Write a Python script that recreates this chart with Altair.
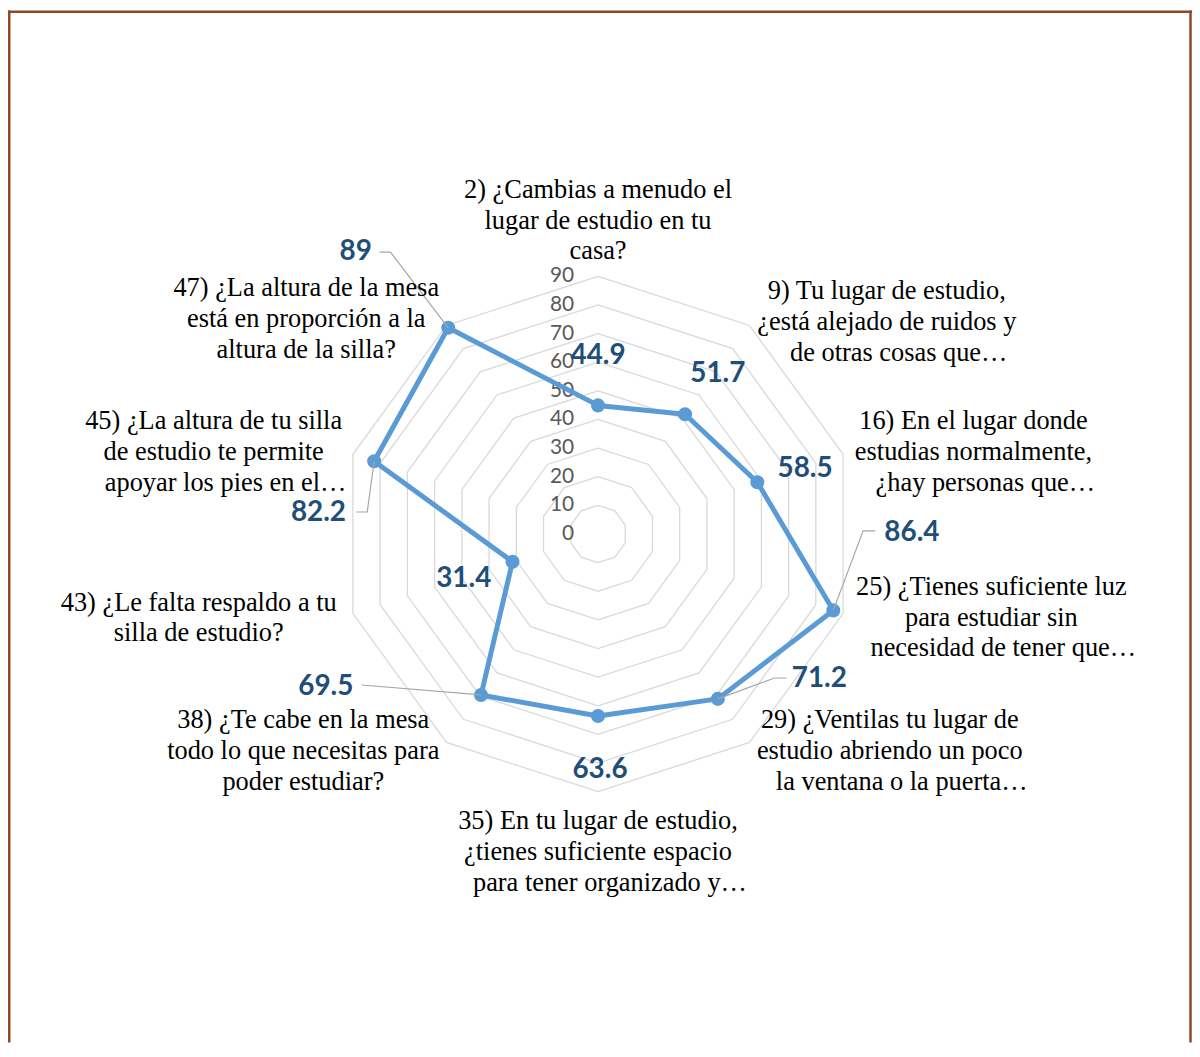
import altair as alt
import pandas as pd

# ---------------- data ----------------
categories = [
    ["2) ¿Cambias a menudo el", "lugar de estudio en tu", "casa?"],
    ["9) Tu lugar de estudio,", "¿está alejado de ruidos y", "de otras cosas que…"],
    ["16) En el lugar donde", "estudias normalmente,", "¿hay personas que…"],
    ["25) ¿Tienes suficiente luz", "para estudiar sin", "necesidad de tener que…"],
    ["29) ¿Ventilas tu lugar de", "estudio abriendo un poco", "la ventana o la puerta…"],
    ["35) En tu lugar de estudio,", "¿tienes suficiente espacio", "para tener organizado y…"],
    ["38) ¿Te cabe en la mesa", "todo lo que necesitas para", "poder estudiar?"],
    ["43) ¿Le falta respaldo a tu", "silla de estudio?"],
    ["45) ¿La altura de tu silla", "de estudio te permite", "apoyar los pies en el…"],
    ["47) ¿La altura de la mesa", "está en proporción a la", "altura de la silla?"],
]
values = [44.9, 51.7, 58.5, 86.4, 71.2, 63.6, 69.5, 31.4, 82.2, 89]
grid_levels = [10, 20, 30, 40, 50, 60, 70, 80, 90]
tick_values = [0, 10, 20, 30, 40, 50, 60, 70, 80, 90]
tick_labels = ["0", "10", "20", "30", "40", "50", "60", "70", "80", "90"]
max_value = 90

# ---------------- layout (pixels) ----------------
W, H = 1190, 1037
CX, CY = 593, 526          # centre of the radar inside the chart
R_PX = 259                 # radius of the 90 ring
K = R_PX / max_value       # pixels per unit
N = len(values)
LINE_H = 31
ELLIPSIS_SHIFT = 12

value_label_offsets = [(0, -50), (33, -40), (48, -13), (79, -78), (102, -20),
                       (2, 54), (-156, -8), (-49, 17), (-56, 52), (-93, -76)]
leader_paths = {
    3: [(0, 0), (30, -80), (42, -80)],
    4: [(0, 0), (57, -21), (69, -21)],
    6: [(0, 0), (-120, -10)],
    8: [(0, 0), (-7, 51), (-18, 51)],
    9: [(0, 0), (-58, -76), (-69, -76)],
}
cat_label_offsets = [(0, -56), (138, -3.5), (131, -2), (149, 4), (141, 8.5),
                     (0, 61), (-144, 8.5), (-155, 4.5), (-140, -2), (-141, -6.5)]

# ---------------- tables ----------------
grid_df = pd.DataFrame([{"level": lv, "i": j} for lv in grid_levels for j in range(N + 1)])
tick_df = pd.DataFrame({"level": tick_values, "label": tick_labels})
series_df = pd.DataFrame([{"i": j, "v": values[j % N]} for j in range(N + 1)])
points_df = pd.DataFrame({"i": list(range(N)), "v": values,
                          "label": [f"{v:g}" for v in values],
                          "ox": [o[0] for o in value_label_offsets],
                          "oy": [o[1] for o in value_label_offsets]})
leader_df = pd.DataFrame([{"i": i, "v": values[i], "step": s, "ox": p[0], "oy": p[1]}
                          for i, path in leader_paths.items() for s, p in enumerate(path)])
cat_rows = []
for i, lines in enumerate(categories):
    n = len(lines)
    for li, t in enumerate(lines):
        cat_rows.append({"i": i, "v": max_value, "text": t,
                         "ox": cat_label_offsets[i][0] + (ELLIPSIS_SHIFT if t.endswith("…") else 0),
                         "oy": cat_label_offsets[i][1] + (li - (n - 1) / 2) * LINE_H})
cat_df = pd.DataFrame(cat_rows)

xs = alt.Scale(domain=[-CX / K, (W - CX) / K], nice=False, zero=False)
ys = alt.Scale(domain=[-(H - CY) / K, CY / K], nice=False, zero=False)
X = alt.X("x:Q", scale=xs, axis=None)
Y = alt.Y("y:Q", scale=ys, axis=None)

theta = f"2*PI*datum.i/{N}"


def polar(chart, rfield="v"):
    return chart.transform_calculate(
        x=f"datum.{rfield}*sin({theta})",
        y=f"datum.{rfield}*cos({theta})",
    )


def polar_off(chart):
    return chart.transform_calculate(
        x=f"datum.v*sin({theta}) + datum.ox/{K}",
        y=f"datum.v*cos({theta}) - datum.oy/{K}",
    )


grid = polar(alt.Chart(grid_df).mark_line(color="#D9D9D9", strokeWidth=1.3), "level").encode(
    x=X, y=Y, detail="level:N", order="i:Q")

ticks = alt.Chart(tick_df).mark_text(
    align="right", baseline="middle", dx=-24, font="Lato", fontSize=21, color="#595959"
).transform_calculate(x="0", y="datum.level").encode(x=X, y=Y, text="label:N")

line = polar(alt.Chart(series_df).mark_line(color="#5B9BD5", strokeWidth=5, strokeJoin="round")).encode(
    x=X, y=Y, order="i:Q")

points = polar(alt.Chart(points_df).mark_circle(size=200, color="#5B9BD5", opacity=1)).encode(x=X, y=Y)

leaders = polar_off(alt.Chart(leader_df).mark_line(color="#A6A6A6", strokeWidth=1.2)).encode(
    x=X, y=Y, detail="i:N", order="step:Q")

vlabels = polar_off(alt.Chart(points_df).mark_text(
    font="Lato", fontWeight="bold", fontSize=28, color="#1F4E79", align="center", baseline="middle"
)).encode(x=X, y=Y, text="label:N")

clabels = polar_off(alt.Chart(cat_df).mark_text(
    font="Liberation Serif", fontSize=26.5, color="#000000", align="center", baseline="middle"
)).encode(x=X, y=Y, text="text:N")

frame_color = "#8E4B23"
one = alt.Data(values=[{}])
left = alt.Chart(one).mark_rule(color=frame_color, strokeWidth=2.5).encode(
    x=alt.value(1.25), y=alt.value(0), y2=alt.value(H))
top = alt.Chart(one).mark_rule(color=frame_color, strokeWidth=2.5).encode(
    x=alt.value(0), x2=alt.value(W), y=alt.value(1.25))
right = alt.Chart(one).mark_rule(color=frame_color, strokeWidth=2.5).encode(
    x=alt.value(W - 1.5), y=alt.value(0), y2=alt.value(H))

chart = alt.layer(grid, ticks, line, points, leaders, vlabels, clabels, left, top, right).properties(
    width=W, height=H, autosize=alt.AutoSizeParams(type="none"), padding=0,
    background="white",
).configure_view(stroke=None)

chart.save("out.html", embed_options={"renderer": "svg", "actions": False})
